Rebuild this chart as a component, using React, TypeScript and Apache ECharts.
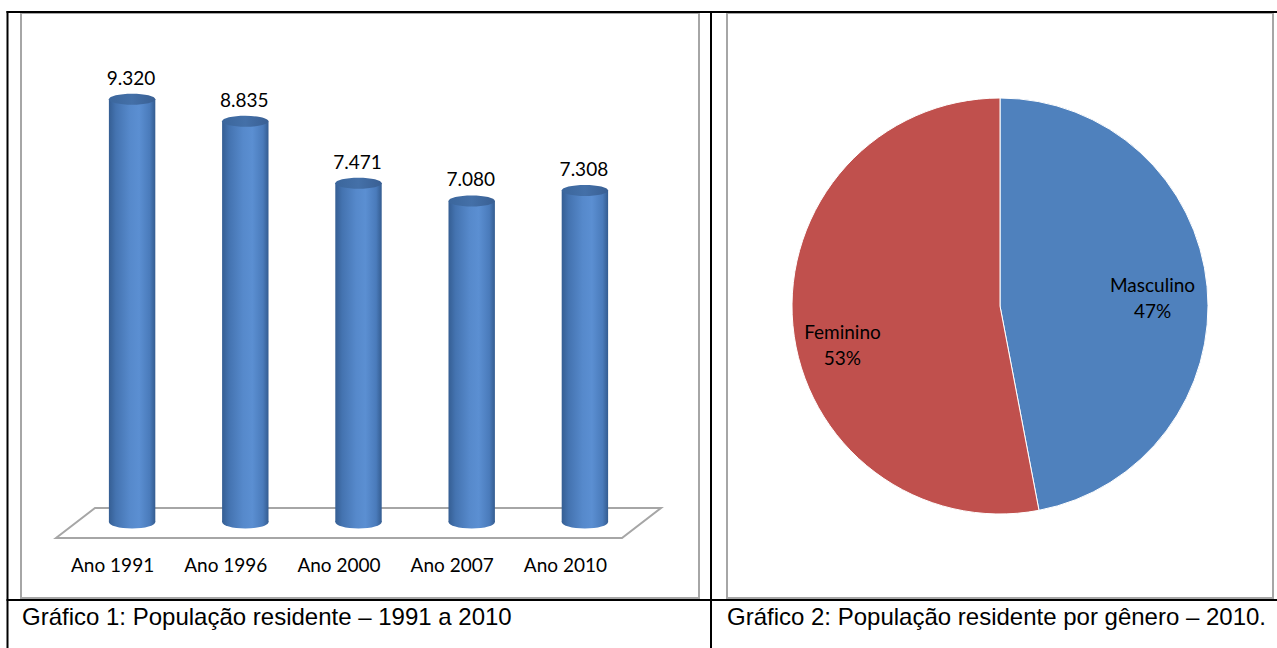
import React, { useEffect, useRef } from "react";
import * as echarts from "echarts";

const categories = ["Ano 1991", "Ano 1996", "Ano 2000", "Ano 2007", "Ano 2010"];
const populationValues = [9320, 8835, 7471, 7080, 7308];
const genderNames = ["Masculino", "Feminino"];
const genderValues = [47, 53];
const genderColors = ["#4f81bd", "#c0504d"];
const caption1 = "Gráfico 1: População residente – 1991 a 2010";
const caption2 = "Gráfico 2: População residente por gênero – 2010.";

const fmt = (v: number) => String(Math.round(v)).replace(/\B(?=(\d{3})+(?!\d))/g, ".");

const LATO = "Lato, 'Open Sans', sans-serif";
const ARIAL = "'Liberation Sans', Arial, sans-serif";

export default function App() {
  const ref = useRef<HTMLDivElement>(null);
  useEffect(() => {
    if (!ref.current) return;
    const chart = echarts.init(ref.current, undefined, { renderer: "svg" });

    const bodyGrad = () =>
      new echarts.graphic.LinearGradient(0, 0, 1, 0, [
        { offset: 0, color: "#355e93" },
        { offset: 0.15, color: "#4473b0" },
        { offset: 0.45, color: "#5689cb" },
        { offset: 0.65, color: "#5b8fd2" },
        { offset: 0.88, color: "#4a7bbb" },
        { offset: 1, color: "#345c90" },
      ]);
    const topGrad = () =>
      new echarts.graphic.LinearGradient(0, 0, 1, 0, [
        { offset: 0, color: "#3b669c" },
        { offset: 0.5, color: "#4470a8" },
        { offset: 1, color: "#395f93" },
      ]);

    const option: any = {
      animation: false,
      backgroundColor: "#ffffff",
      grid: { left: 56, top: 84.5, width: 566, height: 453.5, containLabel: false },
      xAxis: {
        type: "category",
        data: categories,
        axisLine: { show: false },
        axisTick: { show: false },
        axisLabel: { color: "#000", fontFamily: LATO, fontSize: 19, margin: 17 },
      },
      yAxis: { type: "value", min: 0, max: 10000, show: false, splitLine: { show: false } },
      graphic: [
        { type: "rect", shape: { x: 21, y: 13, width: 678, height: 585 }, style: { fill: "#fff", stroke: "#a6a6a6", lineWidth: 2 }, z: -10 },
        { type: "rect", shape: { x: 727, y: 13, width: 546, height: 585 }, style: { fill: "#fff", stroke: "#a6a6a6", lineWidth: 2 }, z: -10 },
        { type: "line", shape: { x1: 6.5, y1: 12, x2: 1277, y2: 12 }, style: { stroke: "#000", lineWidth: 2 }, z: 5 },
        { type: "line", shape: { x1: 7.5, y1: 11, x2: 7.5, y2: 648 }, style: { stroke: "#000", lineWidth: 2 }, z: 5 },
        { type: "line", shape: { x1: 711, y1: 11, x2: 711, y2: 648 }, style: { stroke: "#000", lineWidth: 2 }, z: 5 },
        { type: "line", shape: { x1: 6.5, y1: 600, x2: 1277, y2: 600 }, style: { stroke: "#000", lineWidth: 2 }, z: 5 },
        { type: "polygon", shape: { points: [[56, 538], [95, 508], [661, 508], [622, 538]] }, style: { fill: "#fff", stroke: "#a6a6a6", lineWidth: 2 }, z: -5 },
        { type: "text", x: 22, y: 616, style: { text: caption1, font: `24px ${ARIAL}`, fill: "#000", verticalAlign: "middle", align: "left" } },
        { type: "text", x: 727, y: 616, style: { text: caption2, font: `24px ${ARIAL}`, fill: "#000", verticalAlign: "middle", align: "left" } },
      ],
      series: [
        {
          type: "custom",
          data: populationValues.map((v, i) => [i, v]),
          encode: { x: 0, y: 1 },
          renderItem: (params: any, api: any) => {
            const i = api.value(0);
            const v = api.value(1);
            const base = api.coord([i, 0]);
            const top = api.coord([i, v]);
            const bw = api.size([1, 0])[0];
            const rx = bw * 0.205;
            const ry = 5.5;
            const dx = 19.5;
            const dy = -16;
            const cx = base[0] + dx;
            const by = base[1] + dy;
            const ty = top[1] + dy;
            return {
              type: "group",
              children: [
                { type: "rect", shape: { x: cx - rx, y: ty, width: 2 * rx, height: by - ty }, style: { fill: bodyGrad() } },
                { type: "ellipse", shape: { cx, cy: by, rx, ry: ry + 1 }, style: { fill: bodyGrad() } },
                { type: "ellipse", shape: { cx, cy: ty, rx, ry }, style: { fill: topGrad() } },
                { type: "text", style: { text: fmt(v), x: cx - 1, y: ty - 22, align: "center", verticalAlign: "middle", fill: "#000", font: `19px ${LATO}` } },
              ],
            };
          },
        },
        {
          type: "pie",
          center: [1000, 306],
          radius: 208,
          startAngle: 90,
          clockwise: true,
          silent: true,
          itemStyle: { borderColor: "#ffffff", borderWidth: 1 },
          label: {
            show: true,
            position: "inside",
            formatter: "{b}\n{d}%",
            color: "#000",
            fontFamily: LATO,
            fontSize: 19,
            lineHeight: 26,
            align: "center",
          },
          labelLine: { show: false },
          labelLayout: (p: any) => (p.dataIndex === 0 ? { dx: 46, dy: 2 } : { dx: -51, dy: 28 }),
          data: genderNames.map((n, i) => ({ name: n, value: genderValues[i], itemStyle: { color: genderColors[i] } })),
        },
      ],
    };
    chart.setOption(option);
    return () => chart.dispose();
  }, []);
  return (
    <div
      ref={ref}
      style={{ position: "fixed", left: 0, top: 0, width: 1277, height: 648, background: "#fff" }}
    />
  );
}
